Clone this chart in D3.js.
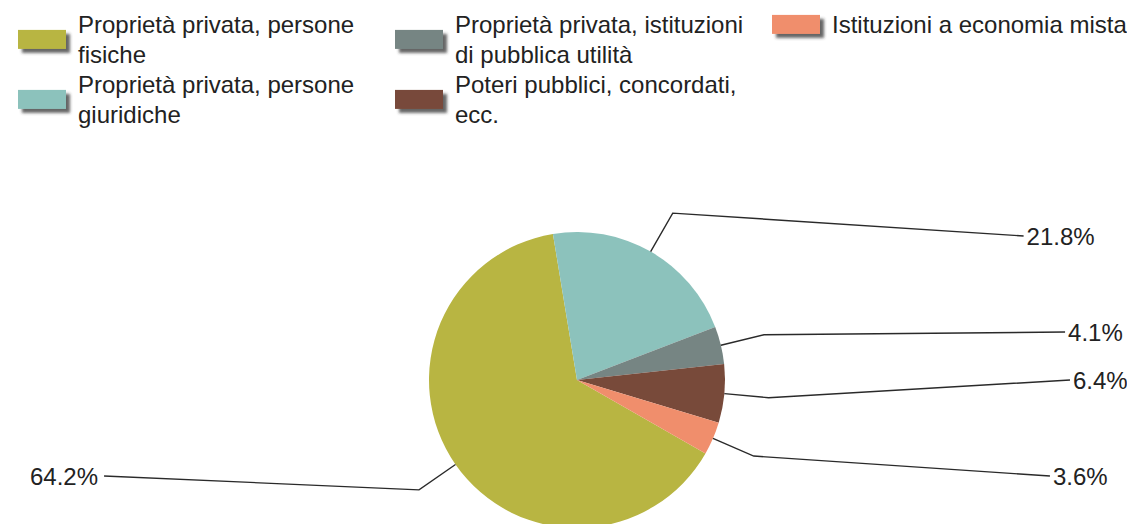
<!DOCTYPE html>
<html>
<head>
<meta charset="utf-8">
<script src="https://cdn.jsdelivr.net/npm/d3@7"></script>
<style>
  body { margin: 0; background: #fff; }
  text { font-family: "Liberation Sans", Arial, sans-serif; font-size: 24px; fill: #222; }
</style>
</head>
<body>
<svg width="1127" height="524"></svg>
<script>
// categories and values (percent)
var categories = [
  "Proprietà privata, persone fisiche",
  "Proprietà privata, persone giuridiche",
  "Proprietà privata, istituzioni di pubblica utilità",
  "Poteri pubblici, concordati, ecc.",
  "Istituzioni a economia mista"
];
var values = [64.2, 21.8, 4.1, 6.4, 3.6];
var colors = ["#b8b542", "#8cc2bc", "#768583", "#784a3a", "#f08e6c"];

var svg = d3.select("svg"),
    width = +svg.attr("width"),
    height = +svg.attr("height");

var cx = 577, cy = 380, radius = 148;

// drop shadow for legend swatches
var defs = svg.append("defs");
defs.append("filter")
    .attr("id", "shadow")
    .attr("x", "-20%").attr("y", "-30%")
    .attr("width", "150%").attr("height", "180%")
  .append("feDropShadow")
    .attr("dx", 4).attr("dy", 4)
    .attr("stdDeviation", 1.6)
    .attr("flood-color", "#333")
    .attr("flood-opacity", 0.75);

var data = categories.map(function(c, i) {
  return { name: c, value: values[i], color: colors[i] };
});

// ---- legend: 2 rows, column-major ----
var lineH = 30, colW = 377, wrapW = 310;
var legend = svg.append("g").attr("class", "legend");

data.forEach(function(d, i) {
  var col = Math.floor(i / 2), row = i % 2;
  var g = legend.append("g")
      .attr("transform", "translate(" + (18 + col * colW) + "," + (row * 2 * lineH) + ")");

  var t = g.append("text").attr("x", 60).attr("y", 33);
  // word wrap
  var words = d.name.split(" "), line = [], lines = [];
  var tmp = t.append("tspan");
  words.forEach(function(w) {
    line.push(w);
    tmp.text(line.join(" "));
    if (tmp.node().getComputedTextLength() > wrapW && line.length > 1) {
      line.pop();
      lines.push(line.join(" "));
      line = [w];
    }
  });
  lines.push(line.join(" "));
  tmp.remove();
  lines.forEach(function(l, k) {
    t.append("tspan").attr("x", 60).attr("y", 33 + k * lineH).text(l);
  });

  var midY = 33 - 8.6 + (lines.length - 1) * lineH / 2;
  g.insert("rect", "text")
      .attr("x", 0).attr("y", midY - 9.5)
      .attr("width", 48).attr("height", 19)
      .attr("fill", d.color)
      .attr("filter", "url(#shadow)");
});

// ---- pie ----
var a0 = 2.09;
var pie = d3.pie()
    .sort(null)
    .value(function(d) { return d.value; })
    .startAngle(a0)
    .endAngle(a0 + 2 * Math.PI);

var arc = d3.arc().innerRadius(0).outerRadius(radius);

var g = svg.append("g").attr("transform", "translate(" + cx + "," + cy + ")");
var arcs = pie(data);

g.selectAll("path.slice")
  .data(arcs)
  .enter().append("path")
    .attr("class", "slice")
    .attr("d", arc)
    .attr("fill", function(d) { return d.data.color; });

// ---- labels with leader lines ----
var ea = 493, eb = 340, slot = 48;
var labels = arcs.map(function(d) {
  var mid = (d.startAngle + d.endAngle) / 2;
  var s = Math.sin(mid), c = -Math.cos(mid);
  var ky = c * radius * 1.3;
  return {
    d: d, right: s >= 0,
    p0: [s * radius, c * radius],
    p1: [s * radius * 1.3, ky],
    y: Math.round(ky * 0.96 / slot) * slot   // snap labels to rows
  };
});

// keep one row between labels on each side
[true, false].forEach(function(side) {
  var ls = labels.filter(function(l) { return l.right === side; })
                 .sort(function(a, b) { return a.y - b.y; });
  for (var k = 1; k < ls.length; k++) {
    if (ls[k].y - ls[k - 1].y < slot) ls[k].y = ls[k - 1].y + slot;
  }
});

labels.forEach(function(l) {
  var fx = ea * Math.sqrt(Math.max(0, 1 - (l.y / eb) * (l.y / eb)));
  l.p2 = [l.right ? fx : -fx, l.y];
});

g.selectAll("polyline.leader")
  .data(labels)
  .enter().append("polyline")
    .attr("class", "leader")
    .attr("points", function(l) { return [l.p0, l.p1, l.p2].map(function(p) { return p.join(","); }).join(" "); })
    .attr("fill", "none")
    .attr("stroke", "#2a2a2a")
    .attr("stroke-width", 1.4);

g.selectAll("text.pct")
  .data(labels)
  .enter().append("text")
    .attr("class", "pct")
    .attr("x", function(l) { return l.p2[0] + (l.right ? 3 : -6); })
    .attr("y", function(l) { return l.p2[1]; })
    .attr("dy", "0.36em")
    .attr("text-anchor", function(l) { return l.right ? "start" : "end"; })
    .text(function(l) { return l.d.data.value.toFixed(1) + "%"; });
</script>
</body>
</html>
